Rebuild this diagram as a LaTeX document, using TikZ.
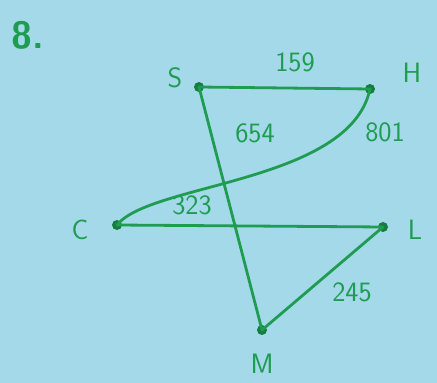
\documentclass[tikz,border=0pt]{standalone}
\usepackage{tikz}

\definecolor{paper}{RGB}{163,217,232}
\definecolor{pen}{RGB}{32,156,82}
\definecolor{penDark}{RGB}{22,124,64}

\begin{document}
\begin{tikzpicture}[x=1pt,y=1pt,
		vtx/.style={circle, fill=penDark, inner sep=0pt, minimum size=10pt},
		lbl/.style={text=pen, font=\sffamily\fontsize{28}{30}\selectfont},
		edge/.style={draw=pen, line width=2.8pt, line cap=round}]
			\fill[paper] (0,0) rectangle (437,383);
			\useasboundingbox (0,0) rectangle (437,383);
			\node[lbl, font=\sffamily\bfseries\fontsize{38}{40}\selectfont] (num) at (28,348) {8.};
			% vertices
			\node[vtx] (S) at (199,296) {};
			\node[vtx] (H) at (370,294) {};
			\node[vtx] (C) at (117,158) {};
			\node[vtx] (L) at (383,156) {};
			\node[vtx] (M) at (262,53) {};
			\node[lbl] (Slbl) at (175,305) {S};
			\node[lbl] (Hlbl) at (412,310) {H};
			\node[lbl] (Clbl) at (80,153) {C};
			\node[lbl] (Llbl) at (415,153) {L};
			\node[lbl] (Mlbl) at (262,19) {M};
			% edges
			\draw[edge] (S.center) -- (H.center);
			\draw[edge] (S.center) -- (M.center);
			\draw[edge] (C.center) -- (L.center);
			\draw[edge] (L.center) -- (M.center);
			\draw[edge] (H.center) .. controls (350,200) and (150,200) .. (C.center);
			% weights
			\node[lbl] (wSH) at (295,321) {159};
			\node[lbl] (wSM) at (255,250) {654};
			\node[lbl] (wHC) at (385,251) {801};
			\node[lbl] (wCL) at (192,178) {323};
			\node[lbl] (wLM) at (352,91) {245};
		\end{tikzpicture}
\end{document}
